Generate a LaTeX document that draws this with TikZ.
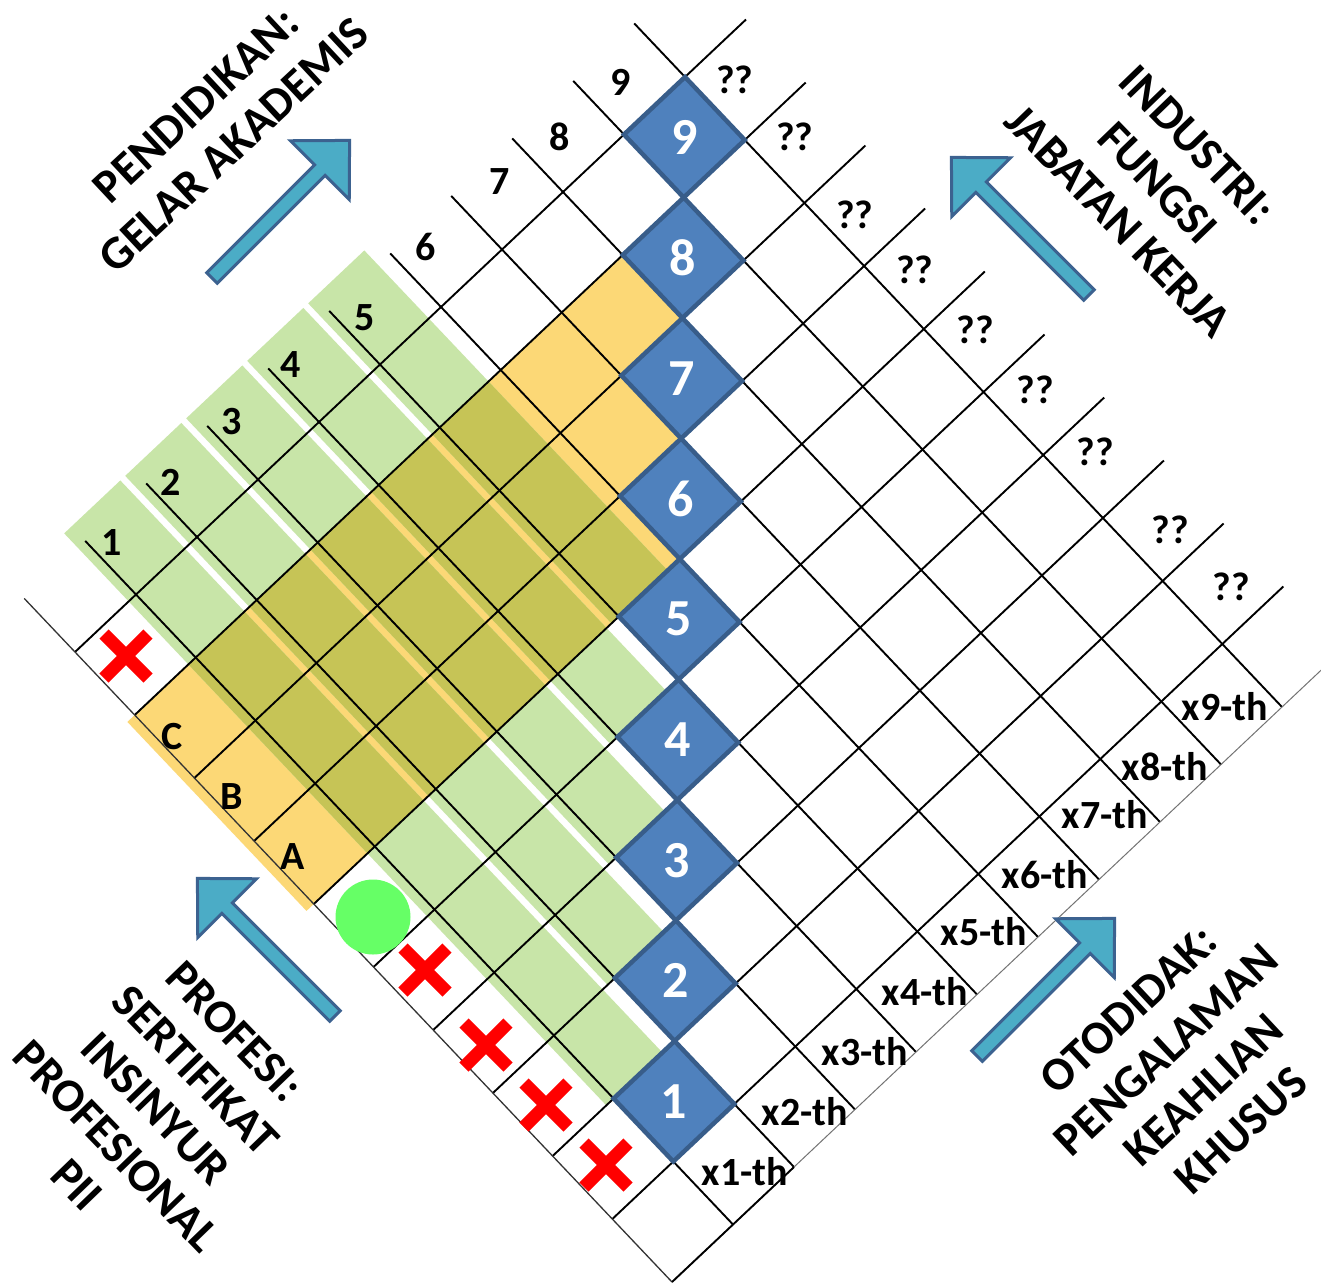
\documentclass[tikz,border=0pt]{standalone}
\usepackage{fontspec}
\setmainfont{Carlito}
\usetikzlibrary{shapes.misc}
\definecolor{dblue}{HTML}{4F81BD}
\definecolor{dborder}{HTML}{385D8A}
\definecolor{arrfill}{HTML}{4BACC6}
\definecolor{arrborder}{HTML}{3C6290}
\definecolor{stripgreen}{RGB}{200,229,168}
\definecolor{stripyellow}{RGB}{252,216,118}
\definecolor{stripolive}{RGB}{198,196,86}
\definecolor{dotgreen}{HTML}{66FF66}
\tikzset{
  gridline/.style={line width=1.9pt, black},
  edgeline/.style={line width=1.3pt, black!80},
  edgegray/.style={line width=1.0pt, black!55},
  diam/.style={fill=dblue, draw=dborder, line width=4.5pt, line join=miter},
  dnum/.style={text=white, font=\fontsize{52}{62}\selectfont\bfseries, inner sep=0pt},
  lab/.style={font=\fontsize{40}{48}\selectfont\bfseries, inner sep=0pt},
  title/.style={font=\fontsize{47}{55}\selectfont\bfseries, align=center, inner sep=0pt},
  xmark/.style={cross out, draw=red, line width=13pt, minimum size=31pt, inner sep=0pt},
  dot/.style={circle, fill=dotgreen, minimum size=75pt, inner sep=0pt},
  arrowbody/.style={fill=arrfill, draw=arrborder, line width=3pt, line join=miter},
  blockarrow/.pic={\path[arrowbody] (1.5,-7.5) -- (154,-7.5) -- (154,-41.5) -- (196,0) -- (154,41.5) -- (154,7.5) -- (1.5,7.5) -- cycle;}
}
\begin{document}
\begin{tikzpicture}[x=1pt,y=-1pt]
\useasboundingbox (0,0) rectangle (1321,1283);
\fill[white] (0,0) rectangle (1321,1283);
\begin{scope}[shift={(672,1282)}, x={(61pt,57.5pt)}, y={(-59.7pt,63pt)}]
  % yellow staircase region
  \fill[stripyellow] (-0.12,6) -- (6,6) -- (6,7) -- (7,7) -- (7,8) -- (8,8) -- (8,9) -- (-0.12,9) -- cycle;
  % green strips
  \foreach \k in {1,...,5} {
    \fill[stripgreen] (\k-0.12,\k+1) -- (\k+0.8,\k+1) -- (\k+0.8,11.08) -- (\k-0.12,11.08) -- cycle;
  }
  % overlap of yellow and green
  \begin{scope}
    \clip (-0.12,6) -- (6,6) -- (6,7) -- (7,7) -- (7,8) -- (8,8) -- (8,9) -- (-0.12,9) -- cycle;
    \foreach \k in {1,...,5} {
      \fill[stripolive] (\k-0.12,\k+1) -- (\k+0.8,\k+1) -- (\k+0.8,11.08) -- (\k-0.12,11.08) -- cycle;
    }
  \end{scope}
  % grid lines
  \foreach \j in {1,...,10} \draw[gridline] (0,\j) -- (11,\j);
  \foreach \i in {1,...,10} \draw[gridline] (\i,0) -- (\i,10.85);
  \draw[edgeline] (0,0) -- (0,10.85);
  \draw[edgegray] (0,0) -- (10.65,0);
  \draw[gridline] (0,0) -- (2,0);
  % diamonds
  \foreach \k in {1,...,9} {
    \draw[diam] (\k,\k) -- (\k+1,\k) -- (\k+1,\k+1) -- (\k,\k+1) -- cycle;
    \node[dnum] (d\k) at (\k+0.5,\k+0.5) {\k};
  }
\end{scope}
% top-left numbers
\node[lab] (n1) at (112,542) {1};
\node[lab] (n2) at (171,482) {2};
\node[lab] (n3) at (232,422) {3};
\node[lab] (n4) at (291,365) {4};
\node[lab] (n5) at (365,318) {5};
\node[lab] (n6) at (426,247) {6};
\node[lab] (n7) at (500,182) {7};
\node[lab] (n8) at (560,137) {8};
\node[lab] (n9) at (621,82) {9};
% question marks
\node[lab] (q9) at (735,80) {??};
\node[lab] (q8) at (795,137) {??};
\node[lab] (q7) at (855,215) {??};
\node[lab] (q6) at (915,270) {??};
\node[lab] (q5) at (975,330) {??};
\node[lab] (q4) at (1035,390) {??};
\node[lab] (q3) at (1095,452) {??};
\node[lab] (q2) at (1170,530) {??};
\node[lab] (q1) at (1231,587) {??};
% x-th labels
\node[lab] (t1) at (745,1172) {x1-th};
\node[lab] (t2) at (805,1112) {x2-th};
\node[lab] (t3) at (865,1052) {x3-th};
\node[lab] (t4) at (925,992) {x4-th};
\node[lab] (t5) at (984,932) {x5-th};
\node[lab] (t6) at (1045,875) {x6-th};
\node[lab] (t7) at (1105,815) {x7-th};
\node[lab] (t8) at (1165,767) {x8-th};
\node[lab] (t9) at (1225,707) {x9-th};
% A B C
\node[lab] (la) at (293,857) {A};
\node[lab] (lb) at (232,797) {B};
\node[lab] (lc) at (172,737) {C};
% markers
\node[xmark] (x1) at (606,1165) {};
\node[xmark] (x2) at (546,1105) {};
\node[xmark] (x3) at (486,1045) {};
\node[xmark] (x4) at (425,970) {};
\node[xmark] (x5) at (126,656) {};
\node[dot] (gc) at (373,917) {};
% arrows
\pic[rotate=45] (ar1) at (211,279) {blockarrow};
\pic[rotate=135] (ar2) at (1090,296) {blockarrow};
\pic[rotate=135] (ar3) at (336,1017) {blockarrow};
\pic[rotate=45] (ar4) at (976,1057) {blockarrow};
% titles
\node[title, rotate=43] (tl) at (215,125) {PENDIDIKAN:\\GELAR AKADEMIS};
\node[title, rotate=-46] (tr) at (1158,183) {INDUSTRI:\\FUNGSI\\JABATAN KERJA};
\node[title, rotate=-46] (bl) at (156,1108) {PROFESI:\\SERTIFIKAT\\INSINYUR\\PROFESIONAL\\PII};
\node[title, rotate=43] (br) at (1185,1070) {OTODIDAK:\\PENGALAMAN\\KEAHLIAN\\KHUSUS};
\end{tikzpicture}
\end{document}
